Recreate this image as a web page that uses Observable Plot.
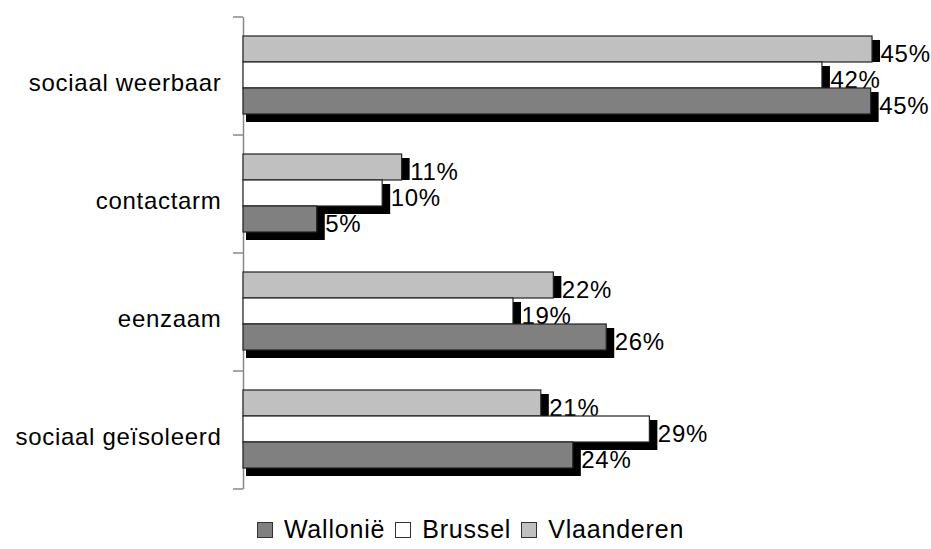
<!DOCTYPE html>
<html>
<head>
<meta charset="utf-8">
<script src="https://cdn.jsdelivr.net/npm/d3@7"></script>
<script src="https://cdn.jsdelivr.net/npm/@observablehq/plot@0.6"></script>
<style>
  html, body { margin: 0; padding: 0; background: #fff; }
  body { width: 931px; height: 549px; overflow: hidden; font-family: "Liberation Sans", Arial, sans-serif; }
  #legend { display: flex; justify-content: center; align-items: baseline; padding-left: 10px; padding-top: 15px;
    font-size: 25px; letter-spacing: 0.8px; line-height: 28px; color: #000; }
  #legend .item { display: inline-flex; align-items: baseline; margin: 0 5px; }
  #legend .sw { display: inline-block; width: 14px; height: 14px; border: 1px solid #333; margin-right: 11px; }
</style>
</head>
<body>
<div id="chart"></div>
<div id="legend"></div>
<script>
// ---- data ----
const categories = ["sociaal weerbaar", "contactarm", "eenzaam", "sociaal geïsoleerd"];
const seriesNames = ["Wallonië", "Brussel", "Vlaanderen"];
const wallonie   = [45.1, 5.3, 26.1, 23.7];
const brussel    = [41.6, 10.0, 19.4, 29.2];
const vlaanderen = [45.2, 11.4, 22.3, 21.4];
const seriesColors = ["#808080", "#FFFFFF", "#C0C0C0"];

const valuesBySeries = {"Wallonië": wallonie, "Brussel": brussel, "Vlaanderen": vlaanderen};
const rows = seriesNames.flatMap(s => categories.map((c, i) => ({category: c, series: s, value: valuesBySeries[s][i]})));
const colorOf = Object.fromEntries(seriesNames.map((s, i) => [s, seriesColors[i]]));

const marginLeft = 243;
// draw order: top bar of each group first (Vlaanderen), then Brussel, then Wallonië
const drawOrder = ["Vlaanderen", "Brussel", "Wallonië"];
const seriesMarks = drawOrder.flatMap(s => {
  const d = rows.filter(r => r.series === s);
  return [
    Plot.barX(d, {x: "value", y: "series", fy: "category", fill: "#000",
      dx: 8, dy: 8, insetLeft: -5, insetTop: -4, insetBottom: s === "Vlaanderen" ? 8 : 0}),
    Plot.barX(d, {x: "value", y: "series", fy: "category", fill: colorOf[s], stroke: "#222", strokeWidth: 1.2}),
    Plot.text(d, {x: "value", y: "series", fy: "category", text: r => `${Math.round(r.value)}%`,
      textAnchor: "start", dx: 8, dy: 4.5, fontSize: 24, fill: "#000"})
  ];
});

const chart = Plot.plot({
  width: 931,
  height: 500,
  marginLeft,
  marginRight: 20,
  marginTop: 15,
  marginBottom: 10,
  style: {fontFamily: '"Liberation Sans", Arial, sans-serif', letterSpacing: "0.7px", background: "#fff", color: "#000"},
  x: {domain: [0, 48], axis: null},
  y: {domain: drawOrder, paddingInner: 0, paddingOuter: 0.72, align: 0.47, axis: null},
  fy: {domain: categories, padding: 0},
  marks: [
    Plot.axisFy({anchor: "left", tickSize: 0, tickPadding: 22, fontSize: 24, dy: 7, label: null}),
    Plot.ruleX([0], {stroke: "#888", strokeWidth: 1.5}),
    ...seriesMarks
  ]
});
document.getElementById("chart").appendChild(chart);

// tick marks at the category boundaries on the vertical axis, from the fy scale
const fy = chart.scale("fy");
const edges = categories.map(c => fy.apply(c));
edges.push(fy.apply(categories[categories.length - 1]) + fy.bandwidth);
d3.select(chart).append("g")
  .selectAll("line").data(edges).join("line")
  .attr("x1", marginLeft - 10).attr("x2", marginLeft)
  .attr("y1", d => d).attr("y2", d => d)
  .attr("stroke", "#888").attr("stroke-width", 1.5);

// legend
const legend = d3.select("#legend");
seriesNames.forEach((s, i) => {
  const it = legend.append("span").attr("class", "item");
  it.append("span").attr("class", "sw").style("background", seriesColors[i]);
  it.append("span").text(s);
});
</script>
</body>
</html>
